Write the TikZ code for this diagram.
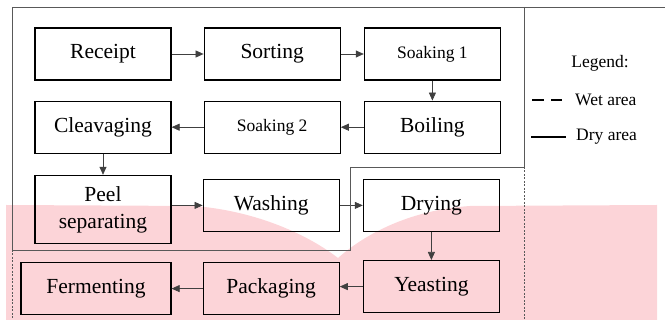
\documentclass[tikz,border=0pt]{standalone}
\usepackage{fontspec}
\setmainfont{Liberation Serif}
\usetikzlibrary{positioning}
\usetikzlibrary{arrows.meta}
\definecolor{wmpink}{RGB}{252,212,216}

\begin{document}
\begin{tikzpicture}[x=1pt,y=-1pt,
		stepbox/.style={draw,rectangle,line width=1.2pt,minimum width=136pt,minimum height=52pt,inner sep=2pt,font=\fontsize{21.5}{27}\selectfont,align=center},
		smallbox/.style={stepbox,font=\fontsize{17.5}{20}\selectfont},
		flow/.style={-{Triangle[length=8pt,width=7pt]},line width=0.7pt,draw=black!75},
		area/.style={draw=black!65,line width=0.9pt},
		legendtxt/.style={font=\fontsize{17.5}{20}\selectfont,inner sep=0pt}]
		\useasboundingbox (0,0) rectangle (665,320);
		% pink shading behind the lower part
		\fill[wmpink] (6,205) -- (195,206) .. controls (265,212) and (315,240) .. (338,258)
			.. controls (365,234) and (410,210) .. (470,206) -- (657,205) -- (657,320) -- (6,320) -- cycle;
		% process steps
		\node[stepbox] at (103,54) (receipt) {Receipt};
		\node[stepbox,right = 32pt of receipt] (sorting) {Sorting};
		\node[smallbox,right = 23pt of sorting] (soak1) {Soaking 1};
		\node[stepbox,below = 20pt of soak1] (boiling) {Boiling};
		\node[smallbox,below = 20pt of sorting] (soak2) {Soaking 2};
		\node[stepbox,below = 20pt of receipt] (cleav) {Cleavaging};
		\node[stepbox,below = 21pt of cleav,minimum height=68pt] (peel) {Peel\\separating};
		\node[stepbox,right = 31pt of peel,yshift=4pt] (washing) {Washing};
		\node[stepbox,right = 23pt of washing] (drying) {Drying};
		\node[stepbox,below = 28pt of drying] (yeasting) {Yeasting};
		\node[stepbox,left = 23pt of yeasting,yshift=-2pt] (packaging) {Packaging};
		\node[stepbox,left = 31pt of packaging,minimum width=150pt] (ferment) {Fermenting};
		% flow
		\draw[flow] (receipt) -- (sorting);
		\draw[flow] (sorting) -- (soak1);
		\draw[flow] (soak1) -- (boiling);
		\draw[flow] (boiling) -- (soak2);
		\draw[flow] (soak2) -- (cleav);
		\draw[flow] (cleav) -- (peel);
		\draw[flow] (peel.east |- washing) -- (washing);
		\draw[flow] (washing) -- (drying);
		\draw[flow] (drying) -- (yeasting);
		\draw[flow] (yeasting) -- (packaging.east |- yeasting);
		\draw[flow] (packaging) -- (ferment);
		% dry and wet areas
		\draw[area] (12,250) -- (12,7) -- (665,7);
		\draw[area] (524,7) -- (524,167) -- (350,167) -- (350,250) -- (12,250);
		\draw[area,dash pattern=on 2pt off 1.5pt] (12,250) -- (12,320);
		\draw[area,dash pattern=on 2pt off 1.5pt] (524,167) -- (524,320);
		% legend
		\node[legendtxt] at (600,63) (legend) {Legend:};
		\node[legendtxt,anchor=west] at (575,100) (wetlbl) {Wet area};
		\node[legendtxt,anchor=west] at (576,137) (drylbl) {Dry area};
		\coordinate (wetend) at (532,100);
		\coordinate (dryend) at (531,137);
		\draw[line width=1.5pt,dash pattern=on 12pt off 7pt] (wetend) -- ([xshift=-13pt]wetlbl.west);
		\draw[line width=1.5pt] (dryend) -- ([xshift=-10pt]drylbl.west);
	\end{tikzpicture}
\end{document}
